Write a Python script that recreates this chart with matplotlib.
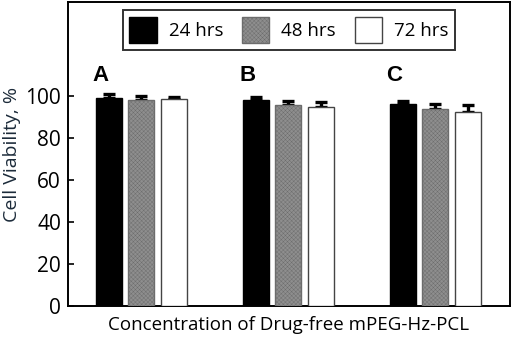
import matplotlib
matplotlib.use("Agg")
import matplotlib.pyplot as plt
import numpy as np
from matplotlib.patches import Patch

plt.rcParams['font.family'] = ['Open Sans', 'DejaVu Sans']
plt.rcParams['hatch.linewidth'] = 0.3

groups = ['A', 'B', 'C']
series = ['24 hrs', '48 hrs', '72 hrs']
values = {
    '24 hrs': [99.3, 98.1, 96.5],
    '48 hrs': [98.4, 95.7, 93.9],
    '72 hrs': [98.6, 95.1, 92.7],
}
errors = {
    '24 hrs': [2.0, 1.4, 1.4],
    '48 hrs': [1.7, 2.2, 2.6],
    '72 hrs': [1.2, 2.3, 3.2],
}
yticks = [0, 20, 40, 60, 80, 100]

styles = {
    '24 hrs': dict(facecolor='black', edgecolor='black', hatch=None),
    '48 hrs': dict(facecolor='#8e8e8e', edgecolor='#6c6c6c', hatch='xxxxxxxx'),
    '72 hrs': dict(facecolor='white', edgecolor='#444444', hatch=None),
}

fig = plt.figure(figsize=(5.12, 3.42), dpi=100)
ax = fig.add_axes([68/512, 1 - 306/342, (510-68)/512, (306-2)/342])

x = np.arange(len(groups))
width = 0.177
offs = [-0.221, 0.0, 0.221]
for s, o in zip(series, offs):
    st = styles[s]
    ax.bar(x + o, values[s], width, facecolor=st['facecolor'],
           edgecolor=st['edgecolor'], hatch=st['hatch'], linewidth=1.0, zorder=3)
    ax.errorbar(x + o, values[s], yerr=[np.zeros(len(groups)), errors[s]],
                fmt='none', ecolor='black', elinewidth=2.4, capsize=4.5,
                capthick=2.4, zorder=2)

for xi, g in zip(x, groups):
    ax.text(xi - 0.275, 109.8, g, ha='center', va='center', fontsize=16,
            fontweight='bold', family='Liberation Sans')

ax.set_xlim(-0.497, 2.51)
ax.set_ylim(0, 145)
ax.set_xticks([])
ax.set_yticks(yticks)
ax.tick_params(axis='y', direction='in', length=4, width=1.2, labelsize=15, pad=5)
for sp in ax.spines.values():
    sp.set_linewidth(1.4)

ax.set_ylabel('Cell Viability, %', fontsize=14, color='#1c2b3a', labelpad=3)
ax.set_xlabel('Concentration of Drug-free mPEG-Hz-PCL', fontsize=13.5, labelpad=7)

handles = [Patch(facecolor=styles[s]['facecolor'], edgecolor=styles[s]['edgecolor'],
                 hatch=styles[s]['hatch'], linewidth=1.0) for s in series]
leg = ax.legend(handles, series, loc='upper center', bbox_to_anchor=(0.5, 0.985),
                ncol=3, fontsize=13.5, frameon=True, fancybox=False, edgecolor='black',
                handlelength=1.45, handleheight=1.8, handletextpad=0.65,
                columnspacing=1.0, borderpad=0.35, borderaxespad=0.2)
leg.get_frame().set_linewidth(1.4)

fig.savefig('out.png', dpi=100)
